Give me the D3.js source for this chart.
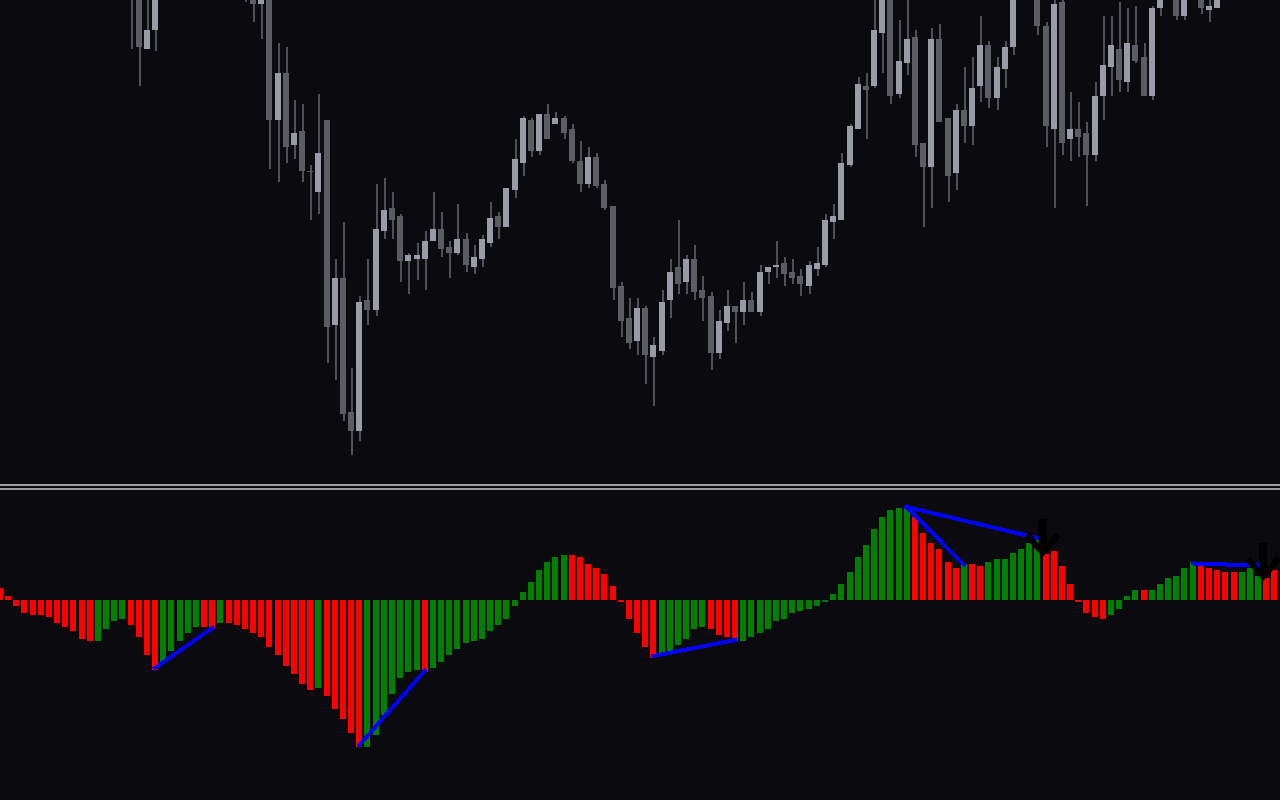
<!DOCTYPE html>
<html><head><meta charset="utf-8">
<script src="https://cdn.jsdelivr.net/npm/d3@7"></script>
<style>html,body{margin:0;padding:0;background:#0a0a0f;overflow:hidden}</style>
</head><body>
<svg id="chart" width="1280" height="800"></svg>
<script>
// ---- DATA (prices in points above 1.10000; oscillator in points) ----
const barIndex = d3.range(157);
const open = [540,545,538,547,555,549,541,546,553,548,540,532,537,531,523,514,510,495,431,450,
490,498,507,515,510,518,524,516,509,512,503,490,476,485,360,407,335,349,309,288,
360,155,202,68,49,180,170,249,272,264,219,221,221,239,251,233,227,241,213,221,
237,264,253,290,317,360,329,366,356,362,351,319,296,323,296,274,194,162,139,172,
123,129,180,213,198,221,190,184,127,157,174,168,180,168,208,213,217,208,204,194,
211,215,258,260,315,351,394,394,447,490,386,417,443,337,313,441,362,307,370,354,
394,435,382,411,433,492,520,495,454,351,478,341,351,347,325,384,413,431,398,435,
423,384,472,495,490,464,490,492,470,472,488,496,503,499,506,511,507];
const high = [552,556,549,560,566,558,551,559,563,555,547,542,548,538,530,521,520,505,485,500,
505,512,520,526,522,530,533,525,519,520,512,500,495,490,437,433,380,376,315,386,
360,221,258,112,184,221,296,302,288,266,227,237,249,288,268,239,276,247,235,245,
278,268,292,341,364,362,366,376,368,364,356,339,333,327,300,274,198,182,182,174,
143,190,221,260,225,235,204,188,170,190,174,198,188,215,213,239,223,221,211,219,
233,266,276,327,356,403,407,485,510,500,460,485,450,337,452,456,362,376,413,423,
464,439,423,439,500,530,525,500,458,485,488,388,378,358,398,464,464,478,472,474,
437,474,500,505,495,495,510,500,485,495,502,508,512,510,516,520,515];
const low = [528,536,530,541,544,538,532,540,545,536,527,521,529,518,509,500,431,394,431,429,
483,490,499,505,502,510,512,505,498,496,478,458,441,311,298,317,321,298,260,266,
117,100,59,25,39,155,164,241,241,198,186,200,190,239,223,202,225,208,206,213,
233,241,253,282,304,323,325,341,356,341,317,288,292,292,270,180,143,131,125,96,
74,125,162,186,186,180,159,110,121,149,137,155,168,164,196,202,194,196,184,186,
204,213,241,260,313,351,341,392,407,376,382,405,323,253,272,358,278,290,337,335,
378,372,370,392,425,485,483,445,333,272,325,319,323,274,319,360,384,388,388,417,
384,380,464,482,460,460,483,466,458,472,484,490,494,492,500,503,498];
const close = [545,538,547,555,549,541,546,553,548,540,532,537,531,523,514,505,485,433,450,490,
498,507,515,510,518,524,516,509,512,503,488,476,485,360,407,333,347,309,308,327,
153,202,66,49,178,170,251,270,260,219,225,225,239,251,231,227,241,215,223,241,
262,253,292,321,362,329,366,341,362,347,319,296,323,294,272,192,159,137,172,125,
135,178,208,196,221,188,182,127,159,174,168,180,168,208,213,215,206,202,196,215,
217,260,264,317,354,396,390,450,500,384,419,441,335,313,441,358,304,370,354,392,
435,382,413,433,490,520,495,454,354,476,337,351,343,325,384,415,435,400,437,419,
384,472,490,485,464,488,500,472,474,488,496,503,499,506,511,507,510];

const oscValues = [12,4,-6,-13,-15,-15,-17,-23,-27,-31,
-39,-41,-41,-29,-21,-19,-25,-37,-55,-70,
-63,-51,-41,-33,-27,-27,-29,-23,-23,-25,
-29,-33,-37,-47,-55,-66,-74,-84,-90,-88,
-96,-109,-119,-133,-147,-147,-135,-115,-94,-78,
-72,-70,-72,-68,-62,-55,-49,-43,-41,-39,
-31,-25,-19,-6,8,18,30,38,43,45,
45,43,36,32,26,14,-2,-19,-33,-47,
-58,-53,-51,-45,-39,-29,-27,-29,-35,-37,
-41,-41,-37,-33,-29,-21,-19,-13,-11,-9,
-6,-2,6,16,28,43,55,71,83,90,
92,94,83,67,57,51,38,32,36,36,
34,38,41,41,47,51,57,60,46,49,
34,16,-2,-13,-17,-19,-15,-9,4,10,
10,10,16,22,24,32,38,34,32,30,
28,28,28,32,24,22,30];
// G = rising (green), R = falling (red)
const oscDir = ("RRRRRRRRRR"+"RRGGGGRRRR"+"GGGGGRRGRR"+"RRRRRRRRRG"+"RRRRRGGGGG"+
"GGRGGGGGGG"+"GGGGGGGGGG"+"RRRRRRRRRR"+"RGGGGGGRRR"+"RGGGGGGGGG"+
"GGGGGGGGGG"+"GGRRRRRRGR"+"RGGGGGGGRR"+"RRRRRRGGGG"+"RGGGGGGRRR"+"RRGGGRR").split("");

// divergence trend lines: [startBar, startValue, endBar, endValue]
const divStartBar = [19, 44, 80, 111, 111, 146];
const divStartVal = [-68, -145, -56, 93, 93, 36.5];
const divEndBar   = [26, 52, 90, 127, 118, 154];
const divEndVal   = [-28, -71, -40, 62, 35, 34.5];

// signal arrows (bar, oscillator value at arrow tip)
const arrowBar = [128, 155];
const arrowVal = [43, 19];

// ---- DRAW ----
const svg = d3.select("#chart");
const W = 1280, H = 800;
const colors = {bg:"#0a0a0f", bull:"#9a9ba8", bear:"#5c5d63", wick:"#505157",
  up:"#008000", dn:"#ff0000", line:"#0000ff", sep:"#9c9c9c", arrow:"#000000"};

svg.append("rect").attr("width",W).attr("height",H).attr("fill",colors.bg);

const defs = svg.append("defs");
defs.append("clipPath").attr("id","mainClip").append("rect").attr("x",0).attr("y",0).attr("width",W).attr("height",484);
defs.append("clipPath").attr("id","subClip").append("rect").attr("x",0).attr("y",490).attr("width",W).attr("height",310);

const x = d3.scaleLinear().domain([0,156]).range([-0.17,1274.35]);
const yP = d3.scaleLinear().domain([0,480]).range([480,0]);
const yO = d3.scaleLinear().domain([-150,100]).range([750,500]);

const candles = barIndex.map(i => ({i, o:open[i], h:high[i], l:low[i], c:close[i]}));

const main = svg.append("g").attr("clip-path","url(#mainClip)").attr("shape-rendering","crispEdges");
main.selectAll("rect.wick").data(candles).join("rect").attr("class","wick")
  .attr("x", d => Math.round(x(d.i)-3)+3)
  .attr("width", 2)
  .attr("y", d => yP(d.h))
  .attr("height", d => Math.max(1, yP(d.l)-yP(d.h)))
  .attr("fill", colors.wick);
main.selectAll("rect.body").data(candles).join("rect").attr("class","body")
  .attr("x", d => Math.round(x(d.i)-3))
  .attr("width", 6)
  .attr("y", d => yP(Math.max(d.o,d.c)))
  .attr("height", d => Math.max(1, Math.abs(yP(d.o)-yP(d.c))))
  .attr("fill", d => d.c >= d.o ? colors.bull : colors.bear);

// separator
svg.append("rect").attr("x",0).attr("y",484).attr("width",W).attr("height",2).attr("fill",colors.sep);
svg.append("rect").attr("x",0).attr("y",488).attr("width",W).attr("height",2).attr("fill",colors.sep);

const sub = svg.append("g").attr("clip-path","url(#subClip)");
const bars = barIndex.map(i => ({i, v:oscValues[i], d:oscDir[i]}));
sub.append("g").attr("shape-rendering","crispEdges")
  .selectAll("rect").data(bars).join("rect")
  .attr("x", d => Math.round(x(d.i)-3))
  .attr("width", 6)
  .attr("y", d => Math.round(Math.min(yO(d.v), yO(0))))
  .attr("height", d => Math.max(1, Math.round(Math.abs(yO(d.v)-yO(0)))))
  .attr("fill", d => d.d === "G" ? colors.up : colors.dn);

const lineGen = d3.line().x(d => x(d[0])).y(d => yO(d[1]));
const segs = divStartBar.map((b,k) => [[b, divStartVal[k]], [divEndBar[k], divEndVal[k]]]);
sub.append("g").selectAll("path").data(segs).join("path")
  .attr("d", lineGen).attr("fill","none").attr("stroke",colors.line)
  .attr("stroke-width",4).attr("stroke-linecap","square").attr("shape-rendering","crispEdges");

const arrowShape = "M-4,-38 L4,-38 L4,-13 L13,-25 L18,-20 L0,0 L-18,-20 L-13,-25 L-4,-13 Z";
sub.append("g").selectAll("path").data(arrowBar.map((b,k)=>({b, v:arrowVal[k]}))).join("path")
  .attr("transform", d => `translate(${x(d.b)-3},${yO(d.v)})`)
  .attr("d", arrowShape).attr("fill", colors.arrow);
</script>
</body></html>
